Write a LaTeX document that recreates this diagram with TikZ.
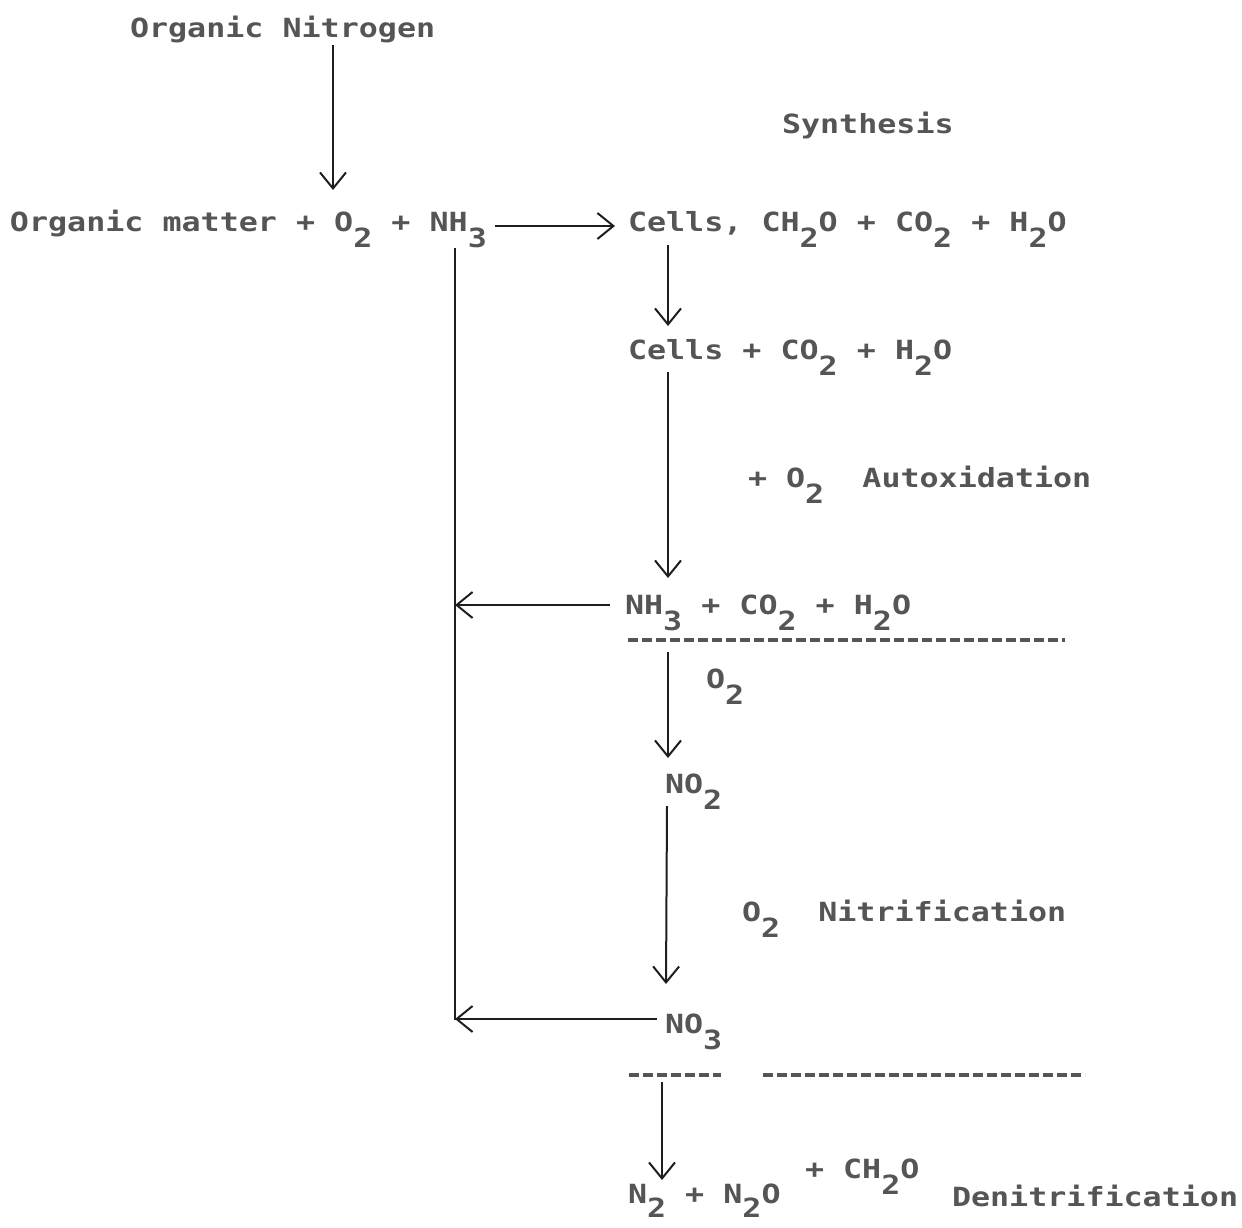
\documentclass[tikz,border=0pt]{standalone}
\usepackage{fontspec}
\usetikzlibrary{arrows.meta}
\newfontfamily\tw[FakeStretch=1.2]{DejaVu Sans Mono}
\newcommand\lo[1]{\raisebox{-8pt}{#1}}
\definecolor{ink}{RGB}{85,85,85}
\definecolor{lnc}{RGB}{30,30,30}
\begin{document}
\begin{tikzpicture}[x=0.5pt,y=-0.5pt,
 txt/.style={anchor=base west,inner sep=0pt,outer sep=0pt,text=ink,font=\tw\bfseries\fontsize{13.2pt}{15pt}\selectfont},
 arr/.style={draw=lnc,line width=1pt,-{Straight Barb[length=8pt,width=13pt,line width=1pt]}},
 ln/.style={draw=lnc,line width=1pt},
 dsh/.style={draw=ink,line width=1.8pt,dash pattern=on 5pt off 2pt}]
\useasboundingbox (0,0) rectangle (1242,1227);
% texts
\node[txt] (orgN) at (130,37) {Organic Nitrogen};
\node[txt] (synth) at (782,133) {Synthesis};
\node[txt] (eq1) at (10,231) {Organic matter + O\lo{2} + NH\lo{3}};
\node[txt] (eq2) at (628,231) {Cells, CH\lo{2}O + CO\lo{2} + H\lo{2}O};
\node[txt] (eq3) at (628,359) {Cells + CO\lo{2} + H\lo{2}O};
\node[txt] (aut) at (748,487) {+ O\lo{2}~~Autoxidation};
\node[txt] (eq4) at (625,614) {NH\lo{3} + CO\lo{2} + H\lo{2}O};
\node[txt] (o2a) at (706,688) {O\lo{2}};
\node[txt] (no2) at (665,793) {NO\lo{2}};
\node[txt] (nit) at (742,921) {O\lo{2}~~Nitrification};
\node[txt] (no3) at (665,1033) {NO\lo{3}};
\node[txt] (n2) at (628,1203) {N\raisebox{-7pt}{2} + N\raisebox{-7pt}{2}O};
\node[txt] (ch2o) at (805,1178) {+ CH\lo{2}O};
\node[txt] (den) at (952,1206) {Denitrification};
% connector ends
\coordinate (a1s) at (333,45);   \coordinate (a1e) at (333,190);
\coordinate (a2s) at (495,226);  \coordinate (a2e) at (615,226);
\coordinate (vt) at (455,248);   \coordinate (vb) at (455,1020);
\coordinate (a3s) at (668,245);  \coordinate (a3e) at (668,326);
\coordinate (a4s) at (668,372);  \coordinate (a4e) at (668,578);
\coordinate (a5s) at (610,605);  \coordinate (a5e) at (455,605);
\coordinate (a6s) at (668,652);  \coordinate (a6e) at (668,758);
\coordinate (a7s) at (667,806);  \coordinate (a7e) at (666,984);
\coordinate (a8s) at (657,1019); \coordinate (a8e) at (455,1019);
\coordinate (a9s) at (662,1082); \coordinate (a9e) at (662,1180);
\coordinate (d1s) at (628,640);  \coordinate (d1e) at (1065,640);
\coordinate (d2s) at (629,1075); \coordinate (d2e) at (721,1075);
\coordinate (d3s) at (763,1075); \coordinate (d3e) at (1085,1075);
% connectors
\draw[arr] (a1s) -- (a1e);
\draw[arr] (a2s) -- (a2e);
\draw[ln] (vt) -- (vb);
\draw[arr] (a3s) -- (a3e);
\draw[arr] (a4s) -- (a4e);
\draw[arr] (a5s) -- (a5e);
\draw[arr] (a6s) -- (a6e);
\draw[arr] (a7s) -- (a7e);
\draw[arr] (a8s) -- (a8e);
\draw[arr] (a9s) -- (a9e);
\draw[dsh] (d1s) -- (d1e);
\draw[dsh] (d2s) -- (d2e);
\draw[dsh] (d3s) -- (d3e);
\end{tikzpicture}
\end{document}
